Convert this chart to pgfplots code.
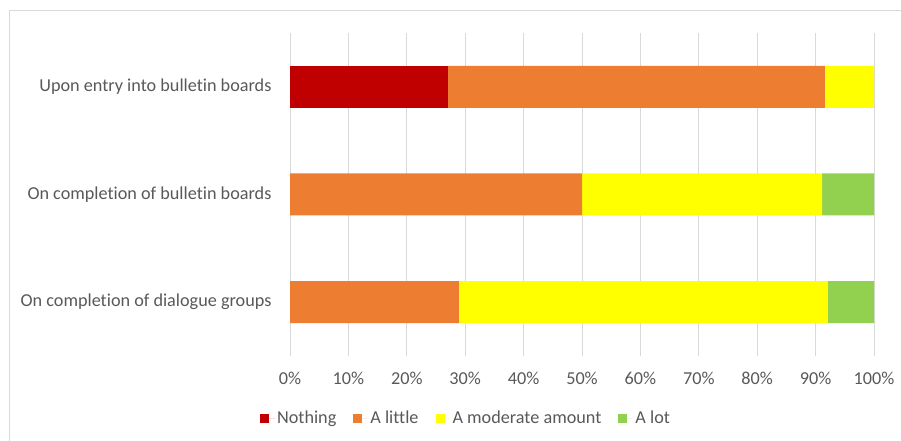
\documentclass[border=0pt]{standalone}
\usepackage{pgfplots}
\pgfplotsset{compat=1.18}
\usepackage{fontspec}
\setmainfont{Carlito}[Ligatures=NoCommon]
\definecolor{cNothing}{HTML}{C00000}
\definecolor{cLittle}{HTML}{ED7D31}
\definecolor{cModerate}{HTML}{FFFF00}
\definecolor{cLot}{HTML}{92D050}
\definecolor{cGrid}{HTML}{D9D9D9}
\definecolor{cText}{HTML}{595959}
\begin{document}
\begin{tikzpicture}[x=1pt,y=1pt]
\useasboundingbox (0,0) rectangle (901,441);
\draw[cGrid, line width=1pt] (9.5,0) -- (9.5,430) -- (901,430);
\begin{axis}[
  at={(290pt,85pt)}, anchor=south west,
  scale only axis, width=584pt, height=323pt,
  xbar stacked, bar width=42pt,
  xmin=0, xmax=100, ymin=-0.5, ymax=2.5,
  xtick={0,10,...,100},
  xticklabel={\pgfmathprintnumber{\tick}\%},
  ytick={0,1,2},
  yticklabels={On completion of dialogue groups,On completion of bulletin boards,Upon entry into bulletin boards},
  xmajorgrids, grid style={cGrid, line width=1pt},
  axis line style={draw=none},
  major tick length=0pt,
  /pgf/number format/assume math mode=true,
  tick label style={font=\fontsize{18.2}{21}\selectfont, text=cText},
  xticklabel style={yshift=-13pt},
  yticklabel style={xshift=-15pt},
  legend columns=4,
  legend style={at={(axis description cs:0.3014,-0.192)}, anchor=center, draw=none, fill=none,
    font=\fontsize{18.2}{21}\selectfont, text=cText,
    /tikz/every odd column/.append style={column sep=0pt},
    /tikz/every even column/.append style={column sep=15pt}},
  legend image code/.code={\fill[#1] (0pt,-4.5pt) rectangle (9pt,4.5pt); \path (0pt,0pt) -- (15pt,0pt);},
]
\addplot[fill=cNothing, draw=none] coordinates {(0,0) (0,1) (27.0,2)};
\addplot[fill=cLittle, draw=none] coordinates {(28.9,0) (50.0,1) (64.6,2)};
\addplot[fill=cModerate, draw=none] coordinates {(63.2,0) (41.1,1) (8.4,2)};
\addplot[fill=cLot, draw=none] coordinates {(7.9,0) (8.9,1) (0,2)};
\legend{Nothing,A little,A moderate amount,A lot}
\end{axis}
\end{tikzpicture}
\end{document}
